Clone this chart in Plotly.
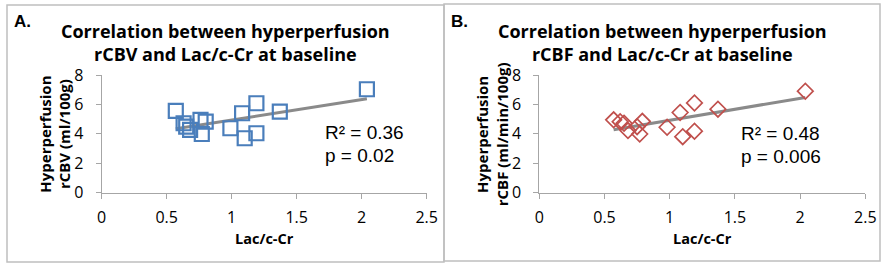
import numpy as np
import plotly.graph_objects as go

W, H = 884, 264

# Panel A data: Lac/c-Cr vs hyperperfusion rCBV
lac_a = [0.57, 0.63, 0.65, 0.68, 0.76, 0.80, 0.77, 0.99, 1.08, 1.10, 1.19, 1.19, 1.37, 2.04]
rcbv = [5.56, 4.72, 4.49, 4.27, 4.95, 4.83, 3.99, 4.38, 5.40, 3.70, 6.08, 4.04, 5.51, 7.03]

# Panel B data: Lac/c-Cr vs hyperperfusion rCBF
lac_b = [0.57, 0.62, 0.65, 0.68, 0.75, 0.79, 0.77, 0.98, 1.08, 1.10, 1.19, 1.19, 1.37, 2.04]
rcbf = [4.95, 4.83, 4.72, 4.22, 4.49, 4.85, 3.99, 4.45, 5.45, 3.81, 6.10, 4.18, 5.68, 6.90]

x_ticks = [0, 0.5, 1, 1.5, 2, 2.5]
y_ticks = [0, 2, 4, 6, 8]

stats_a = ["R² = 0.36", "p = 0.02"]
stats_b = ["R² = 0.48", "p = 0.006"]

titles = ["Correlation between hyperperfusion<br>rCBV and Lac/c-Cr at baseline",
          "Correlation between hyperperfusion<br>rCBF and Lac/c-Cr at baseline"]
ytitles = ["Hyperperfusion<br>rCBV (ml/100g)", "Hyperperfusion<br>rCBF (ml/min/100g)"]


def px(x):
    return x / W


def py(y):
    return 1 - y / H


fig = go.Figure()

AXIS_COL = "#A6A6A6"
CAL = "Open Sans"
TICK_FONT = dict(family=CAL, size=16, color="#000000")

panels = [
    dict(x=lac_a, y=rcbv, sym="square-open", col="#4A7EBB", size=14, lw=2.2,
         xl=101.7, xr=426.7, box=(7, 5, 444, 262), label="A.", stats=stats_a, sx=323, sy=132),
    dict(x=lac_b, y=rcbf, sym="diamond-open", col="#C0504D", size=12, lw=1.7,
         xl=539.3, xr=865.3, box=(444, 4, 880, 261), label="B.", stats=stats_b, sx=739, sy=133),
]

ytop, ybot = 75.0, 192.7
shapes = []
annotations = []
for i, p in enumerate(panels):
    n = "" if i == 0 else str(i + 1)
    xa = "x" + n
    ya = "y" + n
    # trendline from least squares fit of the data
    slope, icpt = np.polyfit(p["x"], p["y"], 1)
    xs = np.array([min(p["x"]), max(p["x"])])
    fig.add_trace(go.Scatter(x=xs, y=slope * xs + icpt, mode="lines",
                             line=dict(color="#8A8A8A", width=3),
                             xaxis=xa, yaxis=ya, showlegend=False, hoverinfo="skip"))
    fig.add_trace(go.Scatter(x=p["x"], y=p["y"], mode="markers",
                             marker=dict(symbol=p["sym"], size=p["size"], color=p["col"],
                                         line=dict(color=p["col"], width=p["lw"])),
                             xaxis=xa, yaxis=ya, showlegend=False))
    fig.layout["xaxis" + n] = dict(domain=[px(p["xl"]), px(p["xr"])], range=[0, 2.5],
                                   tickvals=x_ticks, ticktext=[str(t) for t in x_ticks],
                                   showgrid=False, zeroline=False, showline=True,
                                   linecolor=AXIS_COL, linewidth=1, ticks="outside",
                                   ticklen=5, tickcolor=AXIS_COL, tickfont=TICK_FONT,
                                   anchor=ya, fixedrange=True, ticklabelstandoff=5,
                                   automargin=False)
    fig.layout["yaxis" + n] = dict(domain=[py(ybot), py(ytop)], range=[0, 8],
                                   tickvals=y_ticks, showgrid=False, zeroline=False,
                                   showline=True, linecolor=AXIS_COL, linewidth=1,
                                   ticks="outside", ticklen=5, tickcolor=AXIS_COL,
                                   tickfont=TICK_FONT, anchor=xa, fixedrange=True,
                                   ticklabelstandoff=9, automargin=False)
    x0, y0, x1, y1 = p["box"]
    shapes.append(dict(type="rect", xref="paper", yref="paper", x0=px(x0), x1=px(x1),
                       y0=py(y1), y1=py(y0), line=dict(color="#BFBFBF", width=1.5)))
    cx = (x0 + x1) / 2
    annotations.append(dict(text="<b>" + titles[i] + "</b>", x=px(cx), y=py(42.5), xref="paper",
                            yref="paper", showarrow=False, xanchor="center", yanchor="middle",
                            font=dict(family=CAL, size=18, color="#000000")))
    annotations.append(dict(text="<b>" + p["label"] + "</b>", x=px(x0 + 5), y=py(21), xref="paper",
                            yref="paper", showarrow=False, xanchor="left", yanchor="middle",
                            font=dict(family="Liberation Sans", size=17, color="#000000")))
    annotations.append(dict(text="<b>Lac/c-Cr</b>", x=px((p["xl"] + p["xr"]) / 2), y=py(238),
                            xref="paper", yref="paper", showarrow=False, xanchor="center",
                            yanchor="middle", font=dict(family=CAL, size=14.5, color="#000000")))
    annotations.append(dict(text="<b>" + ytitles[i] + "</b>", x=px(p["xl"] - 47), y=py(134),
                            xref="paper", yref="paper", showarrow=False, xanchor="center",
                            yanchor="middle", textangle=-90,
                            font=dict(family=CAL, size=15, color="#000000")))
    annotations.append(dict(text=p["stats"][0], x=px(p["sx"]), y=py(p["sy"]), xref="paper",
                            yref="paper", showarrow=False, xanchor="left", yanchor="middle",
                            font=dict(family="Liberation Sans", size=19, color="#000000")))
    annotations.append(dict(text=p["stats"][1], x=px(p["sx"]), y=py(p["sy"] + 23), xref="paper",
                            yref="paper", showarrow=False, xanchor="left", yanchor="middle",
                            font=dict(family="Liberation Sans", size=19, color="#000000")))

fig.update_layout(width=W, height=H, margin=dict(l=0, r=0, t=0, b=0, pad=0), autosize=False,
                  paper_bgcolor="white", plot_bgcolor="white", shapes=shapes,
                  annotations=annotations)

fig.write_html("out.html", config={"displayModeBar": False},
               post_script="document.body.style.margin='0';document.body.style.overflow='hidden';")
